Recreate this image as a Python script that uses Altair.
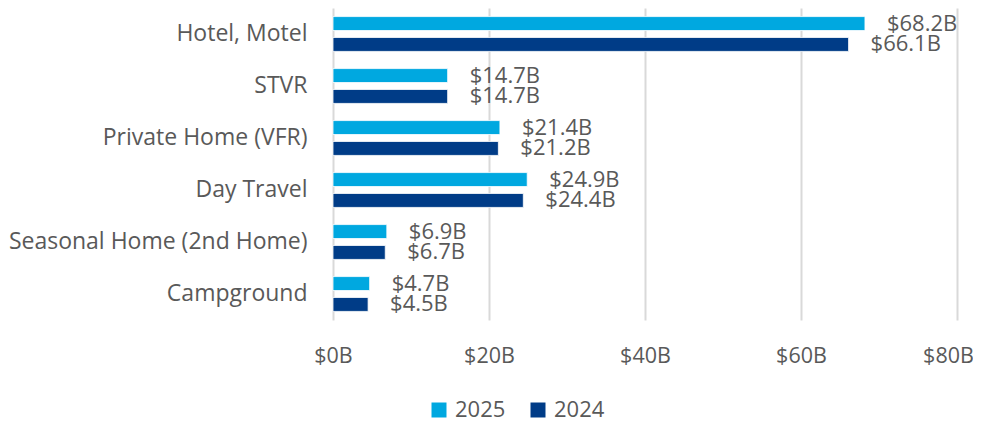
import altair as alt
import pandas as pd

categories = ["Hotel, Motel", "STVR", "Private Home (VFR)", "Day Travel",
              "Seasonal Home (2nd Home)", "Campground"]
values_2025 = [68.2, 14.7, 21.4, 24.9, 6.9, 4.7]
values_2024 = [66.1, 14.7, 21.2, 24.4, 6.7, 4.5]
years = ["2025", "2024"]
colors = ["#00A8E0", "#003C87"]
x_ticks = [0, 20, 40, 60, 80]

rows = []
for c, v5, v4 in zip(categories, values_2025, values_2024):
    rows.append({"category": c, "year": "2025", "value": v5, "label": f"${v5:.1f}B"})
    rows.append({"category": c, "year": "2024", "value": v4, "label": f"${v4:.1f}B"})
df = pd.DataFrame(rows)

FONT = "Open Sans"
TXT = "#595959"

y_enc = alt.Y("category:N", sort=categories, title=None,
              scale=alt.Scale(paddingInner=0.33, paddingOuter=0.165),
              axis=alt.Axis(labelFontSize=23, labelColor=TXT, labelFont=FONT,
                            labelPadding=26, ticks=False, domain=False, grid=False,
                            labelLimit=400))
yoff = alt.YOffset("year:N", sort=years,
                   scale=alt.Scale(paddingInner=0.333, paddingOuter=0))
x_enc = alt.X("value:Q", title=None,
              scale=alt.Scale(domain=[0, 80], nice=False),
              axis=alt.Axis(values=x_ticks, labelExpr="'$' + datum.value + 'B'",
                            labelFontSize=21.5, labelColor=TXT, labelFont=FONT,
                            labelFlush=False,
                            labelOffset={"condition": {"test": "datum.value == 80", "value": -9},
                                         "value": 0},
                            labelPadding=25, ticks=False, domain=False,
                            gridColor="#d9d9d9", gridWidth=2))

bars = alt.Chart(df).mark_bar(stroke="white", strokeWidth=0.8).encode(
    y=y_enc, yOffset=yoff, x=x_enc,
    color=alt.Color("year:N", sort=years,
                    scale=alt.Scale(domain=years, range=colors),
                    legend=alt.Legend(title=None, orient="none", direction="horizontal",
                                      legendX=95, legendY=391,
                                      symbolType="square", symbolSize=225,
                                      symbolStrokeWidth=0,
                                      labelFontSize=22, labelColor=TXT, labelFont=FONT,
                                      labelOffset=5, columnPadding=21)),
)

labels = alt.Chart(df).mark_text(align="left", baseline="middle", dx=22,
                                 fontSize=22, font=FONT, color=TXT).encode(
    y=alt.Y("category:N", sort=categories), yOffset=yoff,
    x="value:Q", text="label:N",
)

chart = (bars + labels).properties(
    width=624, height=312,
    autosize=alt.AutoSizeParams(type="none"),
    padding={"left": 325, "top": 0, "right": 16, "bottom": 103},
).configure_view(stroke=None)

chart.save("out.html", embed_options={"renderer": "svg", "actions": False})
